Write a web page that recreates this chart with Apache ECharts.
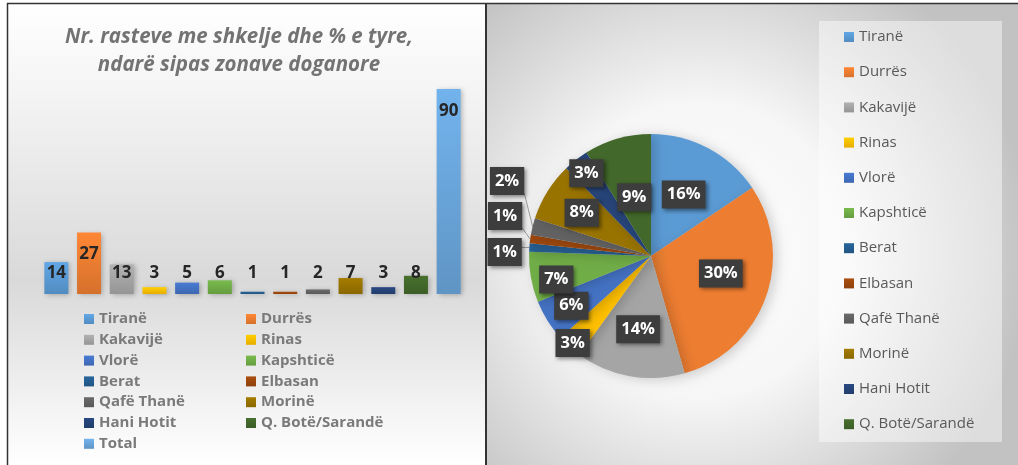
<!DOCTYPE html>
<html><head><meta charset="utf-8">
<script src="https://cdn.jsdelivr.net/npm/echarts@6/dist/echarts.min.js"></script>
<style>html,body{margin:0;padding:0;background:#fff}#c{width:1018px;height:465px}</style>
</head><body><div id="c"></div>
<script>
// ---- data ----
const zones = ['Tiranë','Durrës','Kakavijë','Rinas','Vlorë','Kapshticë','Berat','Elbasan','Qafë Thanë','Morinë','Hani Hotit','Q. Botë/Sarandë'];
const zoneCounts = [14,27,13,3,5,6,1,1,2,7,3,8];
const totalName = 'Total';
const totalCount = 90;
const titleLines = ['Nr. rasteve me shkelje dhe % e tyre,', 'ndarë sipas zonave doganore'];

// ---- styles ----
const zoneColors = ['#5B9BD5','#ED7D31','#A5A5A5','#FFC000','#4472C4','#70AD47','#255E91','#9E480E','#636363','#997300','#264478','#43682B'];
const totalColor = '#6AA6DB';
const FONT = '"Open Sans", Lato, sans-serif';

const barCats = zones.concat([totalName]);
const barVals = zoneCounts.concat([totalCount]);
const barColors = zoneColors.concat([totalColor]);

const GRID_TOP = 89, GRID_BOTTOM = 171, H = 465;
const yMax = 90;
const pxPerUnit = (H - GRID_TOP - GRID_BOTTOM) / yMax;

function shade(hex, f) {
  const n = parseInt(hex.slice(1), 16);
  let r = n >> 16, g = (n >> 8) & 255, b = n & 255;
  r = Math.round(Math.min(255, r * f)); g = Math.round(Math.min(255, g * f)); b = Math.round(Math.min(255, b * f));
  return 'rgb(' + r + ',' + g + ',' + b + ')';
}
function barGrad(c) {
  return new echarts.graphic.LinearGradient(0, 0, 0, 1, [
    {offset: 0, color: shade(c, 1.08)}, {offset: 1, color: shade(c, 0.9)}
  ]);
}

const barSeries = barCats.map((name, i) => {
  const v = barVals[i];
  const relY = Math.min(22, v * pxPerUnit - 21);
  return {
    type: 'bar', name: name, stack: 'all', barWidth: 24,
    data: barCats.map((c, j) => j === i ? v : '-'),
    itemStyle: {color: barGrad(barColors[i]), shadowBlur: 5, shadowOffsetX: 2, shadowOffsetY: 1, shadowColor: 'rgba(0,0,0,0.25)'},
    label: {show: true, position: ['50%', relY], align: 'center', verticalAlign: 'middle',
      color: '#262626', fontWeight: 'bold', fontSize: 17, fontFamily: FONT},
    emphasis: {disabled: true}
  };
});

// pie label placement (relative radius / angle shift per slice)
const CX = 651, CY = 256, R = 122;
const labelRadius = [0.57, 0.59, 0.61, 0.96, 0.77, 0.80, 1.20, 1.24, 1.33, 0.67, 0.86, 0.50];
const labelShift  = [0, -6, 0, 0, 0, -4, -2.4, 7.3, 13.5, 0, 0, 0];
const outsideIdx = [6, 7, 8];
const pieTotal = zoneCounts.reduce((a, b) => a + b, 0);
let cum = 0;
const midAngles = zoneCounts.map(v => { const m = (cum + v / 2) / pieTotal * 360; cum += v; return m; });

const pieSeries = {
  type: 'pie', name: 'Zonat', center: [CX, CY], radius: [0, R], startAngle: 90, clockwise: true,
  avoidLabelOverlap: false,
  data: zones.map((n, i) => ({
    name: n, value: zoneCounts[i],
    itemStyle: {color: zoneColors[i]},
    label: {position: outsideIdx.includes(i) ? 'outside' : 'inside'},
    labelLine: {show: outsideIdx.includes(i), length: 5, length2: 5, lineStyle: {color: '#9a9a9a', width: 1}}
  })),
  itemStyle: {shadowBlur: 12, shadowOffsetX: 4, shadowOffsetY: 2, shadowColor: 'rgba(0,0,0,0.18)'},
  label: {
    show: true, formatter: p => Math.round(p.percent) + '%',
    color: '#fff', fontWeight: 'bold', fontSize: 16.5, fontFamily: FONT,
    backgroundColor: '#3d3d3d', padding: [6, 5, 5, 5],
    shadowBlur: 4, shadowOffsetX: 2, shadowOffsetY: 2, shadowColor: 'rgba(0,0,0,0.45)'
  },
  labelLayout: function (p) {
    const i = p.dataIndex;
    const a = (midAngles[i] + labelShift[i]) * Math.PI / 180;
    const r = R * labelRadius[i];
    const x = CX + r * Math.sin(a), y = CY - r * Math.cos(a);
    const res = {x: x, y: y, align: 'center', verticalAlign: 'middle'};
    if (outsideIdx.includes(i)) {
      const ea = midAngles[i] * Math.PI / 180;
      const ex = CX + R * Math.sin(ea), ey = CY - R * Math.cos(ea);
      const w = p.labelRect.width, h = p.labelRect.height;
      const lx = x + w / 2;
      const ly = Math.max(y - h / 2 + 2, Math.min(y + h / 2 - 2, ey));
      res.labelLinePoints = [[ex, ey], [(ex + lx) / 2, (ey + ly) / 2], [lx, ly]];
    }
    return res;
  },
  emphasis: {disabled: true}
};

const legendText = {color: '#7a7a7a', fontWeight: 'bold', fontSize: 15, fontFamily: FONT, lineHeight: 20};
const legendItemStyle = {shadowBlur: 0, shadowOffsetX: 0, shadowOffsetY: 0, shadowColor: 'transparent'};

const chart = echarts.init(document.getElementById('c'), null, {renderer: 'canvas'});
chart.setOption({
  animation: false,
  backgroundColor: '#ffffff',
  graphic: [
    {type: 'rect', z: -10, shape: {x: 7, y: 3, width: 479, height: 462},
      style: {fill: new echarts.graphic.LinearGradient(0, 0, 0, 1, [
        {offset: 0, color: '#ffffff'}, {offset: 0.18, color: '#f5f5f5'}, {offset: 0.6, color: '#d9d9d9'}, {offset: 0.8, color: '#ececec'}, {offset: 1, color: '#ffffff'}])}},
    {type: 'rect', z: -10, shape: {x: 487, y: 3, width: 531, height: 462},
      style: {fill: {type: 'radial', x: 700, y: 250, r: 330, global: true, colorStops: [
        {offset: 0, color: '#ffffff'}, {offset: 0.45, color: '#f6f6f6'}, {offset: 1, color: '#c2c2c2'}]}}},
    {type: 'rect', z: -9, shape: {x: 819, y: 21, width: 183, height: 421},
      style: {fill: 'rgba(255,255,255,0.45)'}},
    {type: 'line', z: 10, shape: {x1: 7, y1: 3.5, x2: 1018, y2: 3.5}, style: {stroke: '#333', lineWidth: 1.5}},
    {type: 'line', z: 10, shape: {x1: 7.5, y1: 3, x2: 7.5, y2: 465}, style: {stroke: '#333', lineWidth: 1.5}},
    {type: 'line', z: 10, shape: {x1: 486, y1: 3, x2: 486, y2: 465}, style: {stroke: '#333', lineWidth: 2}}
  ],
  title: {
    text: titleLines.join('\n'), left: 239, top: 23, padding: 0, textAlign: 'center',
    textStyle: {color: '#737373', fontStyle: 'italic', fontWeight: 'bold', fontSize: 20.5, fontFamily: FONT, lineHeight: 28}
  },
  grid: {left: 40, right: 1018 - 465, top: GRID_TOP, bottom: GRID_BOTTOM, containLabel: false},
  xAxis: {type: 'category', data: barCats, show: false},
  yAxis: {type: 'value', min: 0, max: yMax, show: false},
  legend: [
    {orient: 'vertical', left: 84, top: 309, padding: 0, itemWidth: 10, itemHeight: 10, itemGap: 0.8, icon: 'rect',
      selectedMode: false, data: barCats.filter((c, i) => i % 2 === 0), textStyle: legendText, itemStyle: legendItemStyle},
    {orient: 'vertical', left: 246, top: 309, padding: 0, itemWidth: 10, itemHeight: 10, itemGap: 0.8, icon: 'rect',
      selectedMode: false, data: barCats.filter((c, i) => i % 2 === 1), textStyle: legendText, itemStyle: legendItemStyle},
    {orient: 'vertical', left: 844, top: 27, padding: 0, itemWidth: 10, itemHeight: 10, itemGap: 15.2, icon: 'rect',
      selectedMode: false, data: zones,
      textStyle: {color: '#595959', fontSize: 15, fontFamily: FONT, lineHeight: 20}, itemStyle: legendItemStyle}
  ],
  series: barSeries.concat([pieSeries])
});
</script>
</body></html>
